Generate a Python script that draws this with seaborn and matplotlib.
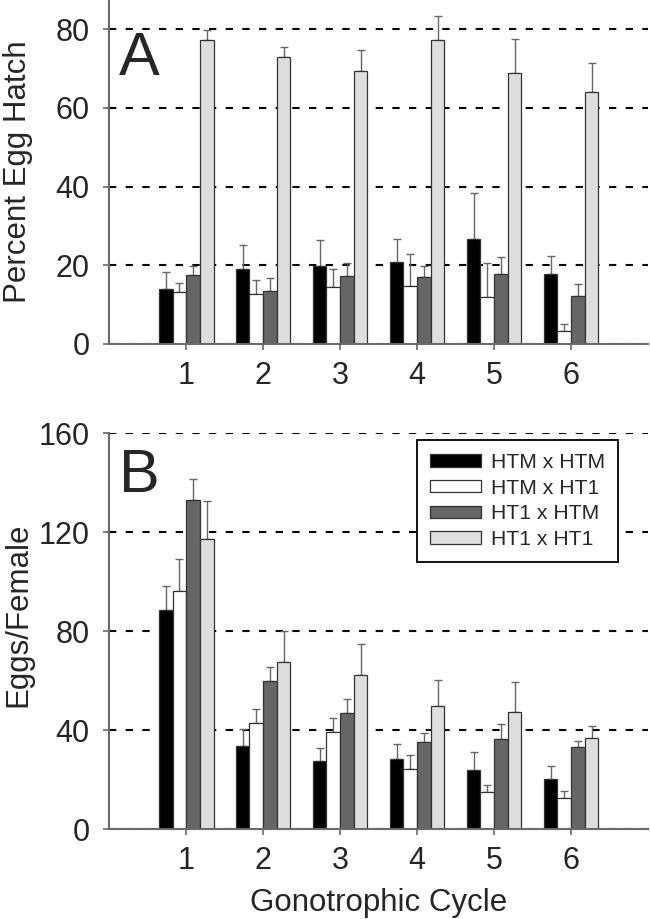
import matplotlib
matplotlib.use("Agg")
import matplotlib.pyplot as plt
import seaborn as sns
import numpy as np
import pandas as pd

cycles = ["1", "2", "3", "4", "5", "6"]
crosses = ["HTM x HTM", "HTM x HT1", "HT1 x HTM", "HT1 x HT1"]
colors = ["#000000", "#ffffff", "#666666", "#dedede"]

# Panel A: percent egg hatch (mean, upper error)
hatch_htm_htm = [14.0, 19.0, 19.7, 20.9, 26.6, 17.8]
hatch_htm_ht1 = [13.1, 12.8, 14.4, 14.7, 11.9, 3.2]
hatch_ht1_htm = [17.5, 13.5, 17.2, 16.9, 17.7, 12.2]
hatch_ht1_ht1 = [77.2, 72.8, 69.3, 77.2, 68.8, 63.9]
hatch_err_htm_htm = [4.3, 6.1, 6.8, 5.8, 11.8, 4.6]
hatch_err_htm_ht1 = [2.4, 3.5, 4.6, 8.2, 8.7, 1.9]
hatch_err_ht1_htm = [2.4, 3.3, 3.4, 3.0, 4.5, 3.1]
hatch_err_ht1_ht1 = [2.7, 2.7, 5.3, 6.1, 8.7, 7.6]

# Panel B: eggs per female (mean, upper error)
eggs_htm_htm = [88.3, 33.5, 27.5, 28.2, 23.7, 20.2]
eggs_htm_ht1 = [96.3, 42.7, 39.2, 24.1, 15.1, 12.4]
eggs_ht1_htm = [132.9, 59.8, 47.0, 35.3, 36.5, 33.0]
eggs_ht1_ht1 = [117.0, 67.6, 62.1, 49.7, 47.4, 36.6]
eggs_err_htm_htm = [9.7, 6.8, 5.2, 6.1, 7.5, 5.3]
eggs_err_htm_ht1 = [12.8, 5.7, 5.8, 5.9, 2.6, 3.1]
eggs_err_ht1_htm = [8.4, 5.8, 5.4, 3.4, 5.9, 2.7]
eggs_err_ht1_ht1 = [15.4, 12.5, 12.6, 10.5, 12.1, 5.1]

ylabel_a = "Percent Egg Hatch"
ylabel_b = "Eggs/Female"
xlabel = "Gonotrophic Cycle"
yticks_a = [0, 20, 40, 60, 80]
yticks_b = [0, 40, 80, 120, 160]


def long_df(series):
    rows = []
    for cross, vals in zip(crosses, series):
        for c, v in zip(cycles, vals):
            rows.append({"cycle": c, "cross": cross, "value": v})
    return pd.DataFrame(rows)


hatch_df = long_df([hatch_htm_htm, hatch_htm_ht1, hatch_ht1_htm, hatch_ht1_ht1])
hatch_errs = [hatch_err_htm_htm, hatch_err_htm_ht1, hatch_err_ht1_htm, hatch_err_ht1_ht1]
eggs_df = long_df([eggs_htm_htm, eggs_htm_ht1, eggs_ht1_htm, eggs_ht1_ht1])
eggs_errs = [eggs_err_htm_htm, eggs_err_htm_ht1, eggs_err_ht1_htm, eggs_err_ht1_ht1]

sns.set_style("white")
plt.rcParams["font.family"] = ["Liberation Sans", "DejaVu Sans"]

fig = plt.figure(figsize=(6.5, 9.19), dpi=100)
axA = fig.add_axes([0.168, 0.6257, 0.829, 0.3743])
axB = fig.add_axes([0.168, 0.0979, 0.829, 0.4309])

spine_col = "#6a6a6a"


def draw(ax, df, errs, ylim, yticks, ylabel, letter, letter_y):
    sns.barplot(data=df, x="cycle", y="value", hue="cross", hue_order=crosses,
                order=cycles, palette=colors, width=0.71, gap=0,
                edgecolor="#333333", linewidth=0.9, errorbar=None,
                legend=False, ax=ax, zorder=3)
    for cont, err in zip(ax.containers, errs):
        xs = [b.get_x() + b.get_width() / 2 for b in cont]
        ys = [b.get_height() for b in cont]
        ax.errorbar(xs, ys, yerr=[np.zeros(len(err)), err], fmt="none",
                    ecolor="#666666", elinewidth=1.0, capsize=2.6,
                    capthick=1.0, zorder=2)
    ax.set_xlim(-1, 6)
    ax.set_ylim(*ylim)
    ax.set_yticks(yticks)
    ax.yaxis.grid(True, color="black", linestyle=(0, (3.5, 4.5)), linewidth=1.5)
    ax.xaxis.grid(False)
    ax.set_axisbelow(True)
    for s in ["top", "right"]:
        ax.spines[s].set_visible(False)
    for s in ["left", "bottom"]:
        sp = ax.spines[s]
        sp.set_visible(True)
        sp.set_edgecolor(spine_col)
        sp.set_linewidth(1.5)
        sp.set_zorder(4)
        sp.set_clip_on(False)
    ax.tick_params(axis="both", which="major", labelsize=22, length=4,
                   width=1.2, color=spine_col, direction="out", pad=8,
                   left=True, bottom=True)
    ax.tick_params(axis="y", pad=10)
    ax.set_xlabel("")
    ax.set_ylabel(ylabel, fontsize=22.5)
    ax.text(0.0185, letter_y, letter, transform=ax.transAxes, fontsize=44,
            va="baseline", ha="left")


draw(axA, hatch_df, hatch_errs, (0, 87.4), yticks_a, ylabel_a, "A", 0.782)
draw(axB, eggs_df, eggs_errs, (0, 160), yticks_b, ylabel_b, "B", 0.851)
axA.yaxis.set_label_coords(-0.141, 0.5)
axB.yaxis.set_label_coords(-0.141, 0.54)
axB.set_xlabel(xlabel, fontsize=22.5, labelpad=9)

handles = list(axB.containers)
leg = axB.legend(handles, crosses, loc="upper left",
                 bbox_to_anchor=(0.572, 0.982), fontsize=15.2,
                 frameon=True, fancybox=False, edgecolor="black",
                 framealpha=1, handlelength=2.4, handleheight=0.55,
                 labelspacing=0.32, borderpad=0.6, handletextpad=0.5,
                 borderaxespad=0)
leg.get_frame().set_linewidth(1.3)
leg.set_zorder(5)

fig.savefig("out.png", dpi=100)
